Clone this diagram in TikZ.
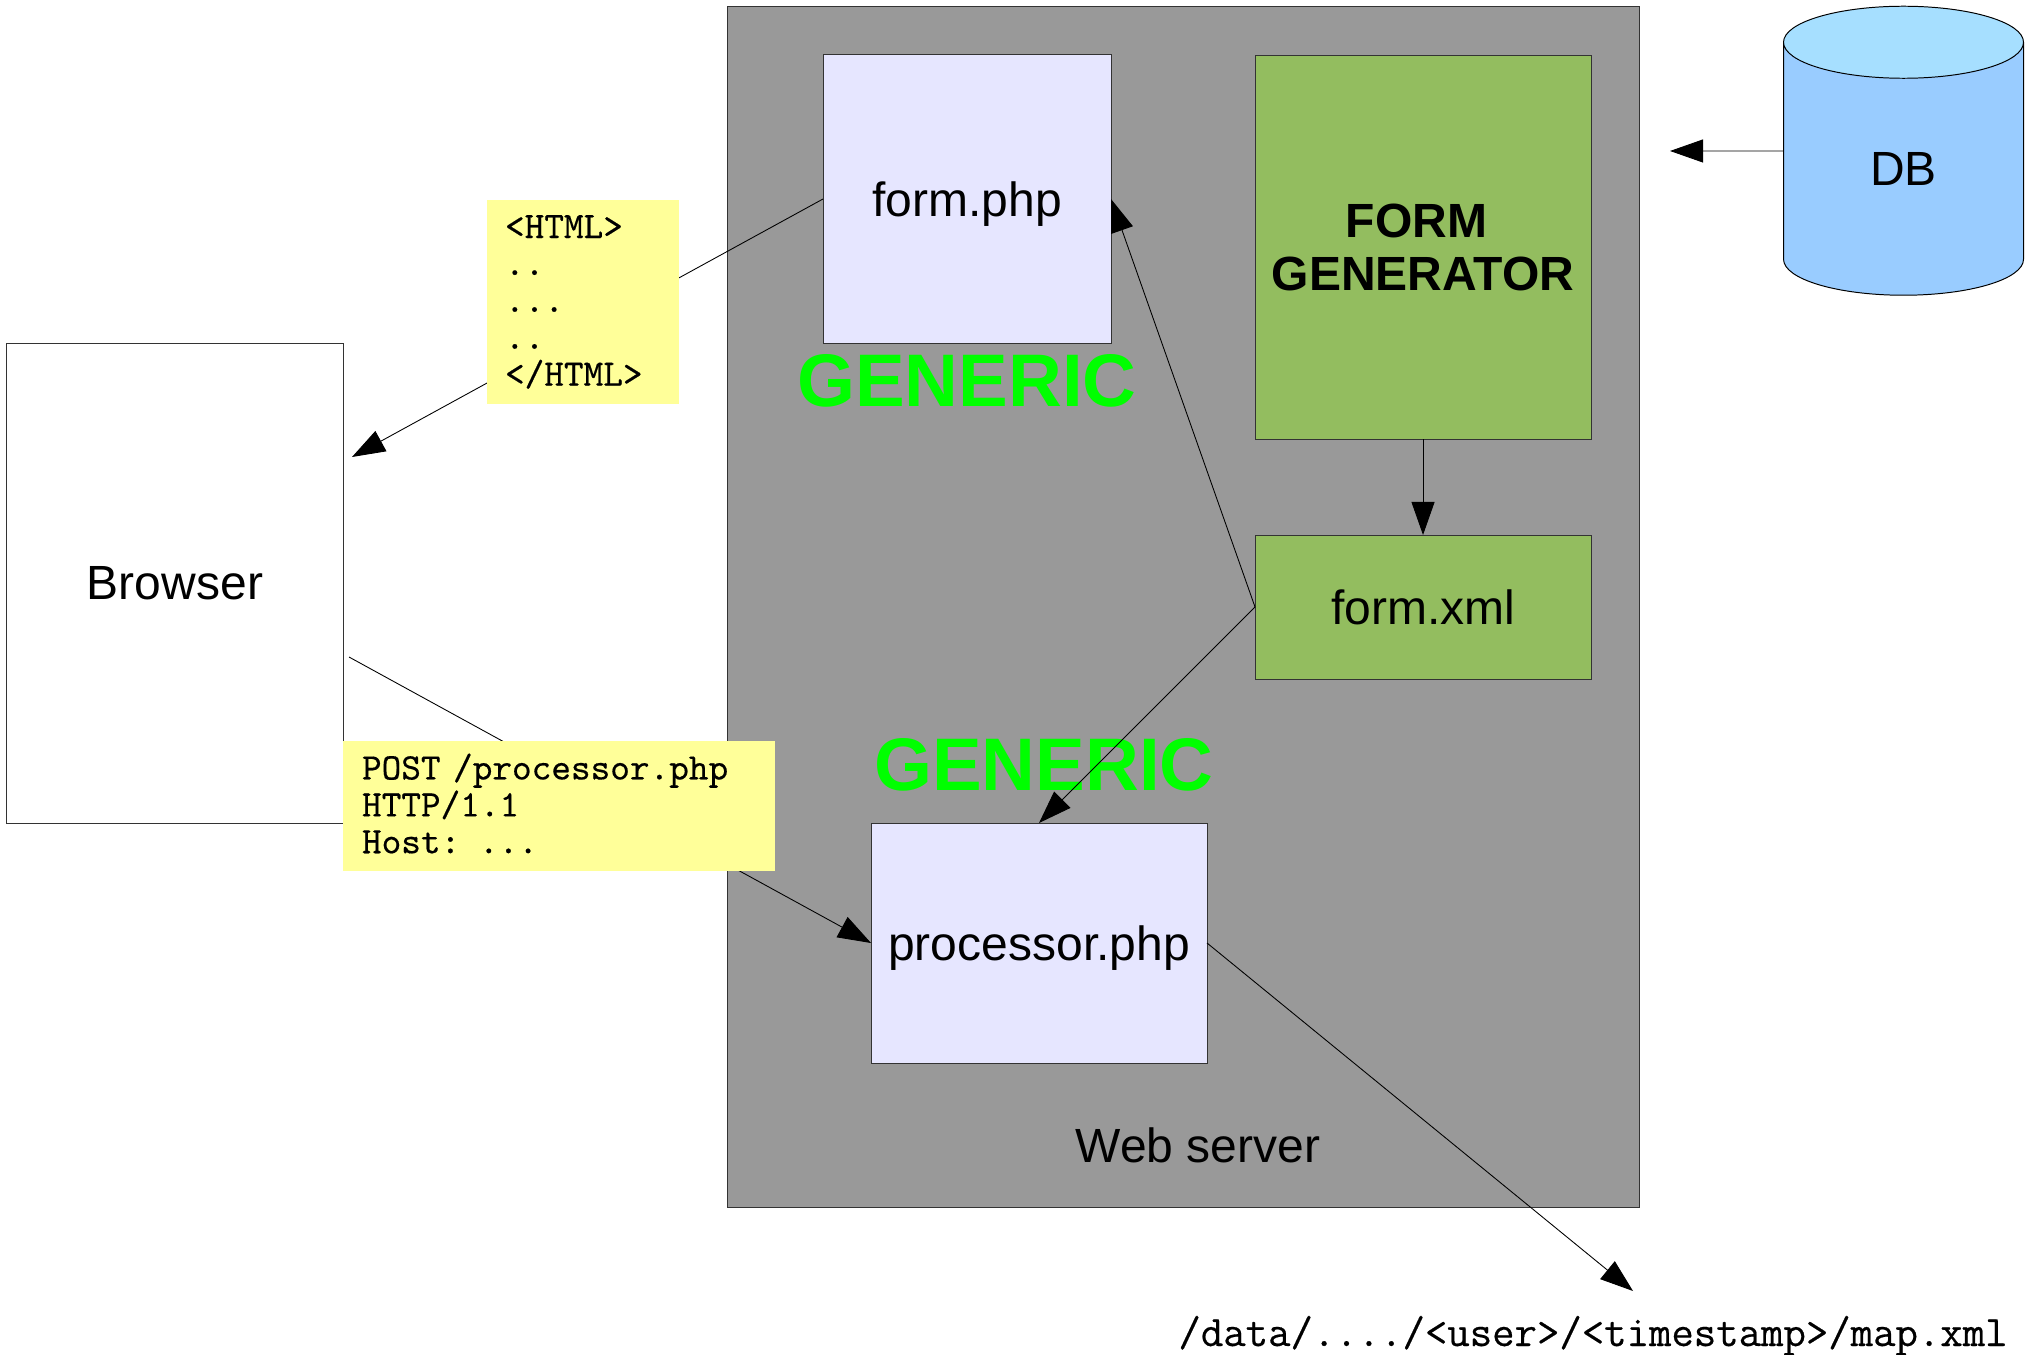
\documentclass[tikz,border=0pt]{standalone}
\usepackage{fontspec}
\setmainfont{Liberation Sans}
\setmonofont[FakeBold=0.4]{Latin Modern Mono}
\usetikzlibrary{positioning, arrows.meta, shapes.geometric}
\definecolor{server_gray}{HTML}{999999}
\definecolor{php_blue}{HTML}{E6E6FF}
\definecolor{gen_green}{HTML}{93BD5F}
\definecolor{note_yellow}{HTML}{FFFF99}
\definecolor{db_blue}{HTML}{99CCFF}
\definecolor{db_top}{HTML}{A6DFFF}

\begin{document}
\begin{tikzpicture}[
        every node/.style={inner sep=0pt, outer sep=0pt, font=\fontsize{13.66pt}{15.4pt}\selectfont},
        box_node/.style={rectangle, draw=black!80, line width=0.28pt, align=center},
        php_node/.style={box_node, fill=php_blue, text depth=0pt},
        gen_node/.style={box_node, fill=gen_green},
        note_node/.style={rectangle, fill=note_yellow, align=left, font=\fontsize{10.65pt}{10.5pt}\selectfont\ttfamily},
        generic_text/.style={text=green, font=\fontsize{21.2pt}{24pt}\selectfont\bfseries},
        link/.style={black, line width=0.25pt, -{Triangle[length=0.33cm, width=0.23cm]}}
        ]
            \useasboundingbox (0,0) rectangle (20.39,-13.55);

            % Areas
            \node[box_node, fill=server_gray, minimum width=9.12cm, minimum height=12.01cm] (server) at (11.83,-6.07) {};
            \node[box_node, fill=white, minimum width=3.37cm, minimum height=4.80cm]  (browser) at (1.75,-5.835) {Browser};

            % server parts
            \node[php_node, minimum width=2.88cm, minimum height=2.88cm] (form_php) at (9.67,-1.99) {form.php};
            \node[gen_node, minimum width=3.36cm, minimum height=3.84cm] (form_gen) at (14.23,-2.475) {\bfseries FORM\kern.278em\\[-0.2pt]\bfseries GENERATOR};
            \node[gen_node, minimum width=3.36cm, minimum height=1.44cm] (form_xml) [below = 0.955cm of form_gen] {form.xml};
            \node[php_node, minimum width=3.36cm, minimum height=2.40cm] (processor) at (10.39,-9.43) {processor.php};
            \node[generic_text] (generic_1) at (9.67,-3.81) {GENERIC};
            \node[generic_text] (generic_2) at (10.44,-7.65) {GENERIC};
            \node (web_server) at (11.98,-11.455) {Web server};

            % database
            \node[cylinder, shape border rotate=90, aspect=1.08, draw=black, line width=0.28pt, cylinder uses custom fill,
                  cylinder body fill=db_blue, cylinder end fill=db_top, minimum width=2.40cm, minimum height=2.89cm] (db) at (19.035,-1.69) {DB};

            % free ends
            \coordinate (db_end)      at (16.70,-1.51);
            \coordinate (browser_in)  at (3.52,-4.57);
            \coordinate (browser_out) at (3.49,-6.57);
            \coordinate (data_in)     at (16.33,-12.91);

            % Lines
            \draw[link] (form_gen) -- (form_xml);
            \draw[link] ([yshift=1.8mm]db.west) -- (db_end);
            \draw[link] (form_xml.west) -- (form_php.east);
            \draw[link] (form_xml.west) -- (processor.north);
            \draw[link] (form_php.west) -- (browser_in);
            \draw[link] (browser_out) -- (processor.west);
            \draw[link] (processor.east) -- (data_in);

            % notes
            \node[note_node, minimum width=1.92cm, minimum height=2.04cm, text width=1.55cm] (html_note) at (5.825,-3.02) {<HTML>\\..\\...\\..\\</HTML>};
            \node[note_node, minimum width=4.32cm, minimum height=1.30cm, text width=3.94cm] (post_note) at (5.59,-8.06) {POST /processor.php\\HTTP/1.1\\Host: ...\rule[-1.5pt]{0pt}{0pt}};

            % text
            \node[font=\fontsize{12.38pt}{13pt}\selectfont\ttfamily, anchor=base] (data_path) at (15.93,-13.46) {/data/..../<user>/<timestamp>/map.xml};
        \end{tikzpicture}
\end{document}
